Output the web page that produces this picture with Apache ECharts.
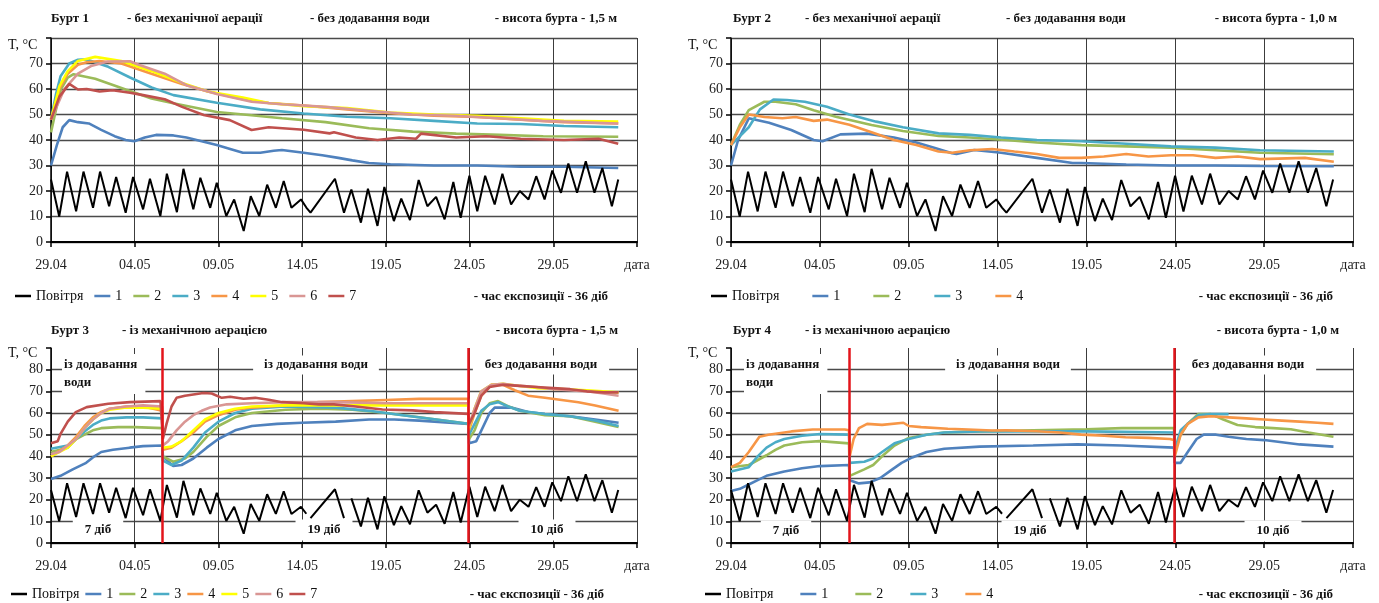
<!DOCTYPE html>
<html><head><meta charset="utf-8">
<script src="https://cdn.jsdelivr.net/npm/echarts@6/dist/echarts.min.js"></script>
<style>html,body{margin:0;padding:0;background:#fff}#c{width:1379px;height:603px}</style>
</head><body><div id="c"></div>
<script>
// ---------- DATA (day offset from 29.04, temperature °C) ----------
const tickLabels = ['29.04','04.05','09.05','14.05','19.05','24.05','29.05','дата'];
const breakDays = [6.66, 24.95];
const airBreaksBottom = [15.4, 17.7];

const air = [[0,24.5],[0.49,10],[0.96,27.6],[1.5,12],[1.94,27.6],[2.51,13.4],[2.93,27.6],[3.47,14],[3.89,25.5],[4.46,11.5],[4.9,25.5],[5.5,12.8],[5.91,24.8],[6.53,10.2],[6.92,26.8],[7.52,11.7],[7.91,28.7],[8.5,12.8],[8.92,25.2],[9.51,13.4],[9.9,23.2],[10.47,10.2],[10.94,16.7],[11.51,4.3],[11.93,18],[12.44,10.2],[12.91,22.5],[13.43,13.4],[13.9,23.9],[14.36,13.4],[14.93,16.7],[15.25,13.5],[15.5,11.5],[16.96,24.8],[17.5,11.5],[17.94,20.6],[18.51,7.6],[18.93,20.9],[19.5,6.3],[19.91,21.6],[20.48,8.2],[20.92,17],[21.44,8.6],[21.96,24.3],[22.48,14],[23.0,17.7],[23.51,8.9],[24.03,23.5],[24.47,9.5],[24.99,26],[25.46,12],[25.93,26],[26.5,14.7],[26.96,26.8],[27.48,14.7],[28.0,20],[28.52,16.7],[28.98,25.8],[29.48,16.7],[29.94,28],[30.46,19.3],[30.9,30.8],[31.42,19.3],[31.94,31.7],[32.46,19.3],[32.93,29],[33.5,14],[33.88,24.5]];

// Бурт 1
const b1s1 = [[0,30],[0.35,38],[0.7,45],[1.09,47.8],[1.61,47],[2.26,46.5],[3.0,44],[3.8,41.5],[4.46,40],[4.98,39.5],[5.6,41],[6.27,42],[7.31,41.8],[8.09,41],[9.0,39.5],[9.9,38],[10.7,36.5],[11.46,35],[12.5,35],[13.3,35.8],[13.79,36.1],[14.5,35.5],[15.09,35],[16.2,34],[17.16,33],[18.0,32],[18.98,31],[20.27,30.5],[22.87,30],[25.46,30],[28.05,29.5],[30.64,29.5],[33.88,29]];
const b1s2 = [[0,43],[0.3,52],[0.6,60],[1.0,64.5],[1.35,65.8],[2.64,64],[4.46,59.8],[6.0,56.3],[7.3,54.4],[9.9,51],[11.5,50],[13.8,48.5],[16.4,47],[19,44.6],[21.6,43.3],[24.2,42.5],[26.8,42],[29.4,41.5],[33.88,41.3]];
const b1s3 = [[0,48],[0.3,58],[0.57,65],[1.09,70],[1.61,71.5],[2.13,71.6],[3.42,68.7],[4.72,64.5],[6.01,60.6],[7.31,57.6],[9.9,54.6],[12.5,52],[15.09,50.4],[17.68,49.1],[20.27,48.5],[22.87,47.5],[25.46,46.5],[28.05,46.3],[30.64,45.5],[33.88,45]];
const b1s4 = [[0,48],[0.5,60],[1.0,66],[1.61,69.5],[2.13,70.5],[2.9,71],[4.2,70],[6.0,66],[7.83,62],[9.38,59],[11.46,56],[13.0,54.5],[15.09,53.5],[17.68,52],[20.27,50.5],[22.87,49.5],[25.46,49],[28.05,48],[30.64,47],[33.88,46.5]];
const b1s5 = [[0,48],[0.5,61],[1.0,67],[1.61,71],[2.64,72.6],[4.2,71],[6.01,67],[7.83,62.4],[9.38,59],[11.46,56.7],[13.0,54.5],[15.09,53.3],[17.68,52.5],[20.27,50.8],[22.87,50],[25.46,49.5],[28.05,48.5],[30.64,47.5],[33.88,47.2]];
const b1s6 = [[0,48],[0.8,60],[1.61,66],[2.39,69],[3.42,70.8],[4.72,70.9],[5.24,69.5],[6.79,66],[8.09,61.5],[9.9,58],[11.98,55],[13.79,54],[16.38,53],[18.98,51.5],[21.57,50],[24.16,49.5],[26.75,48.5],[29.35,47.5],[33.88,46.5]];
const b1s7 = [[0,48],[0.5,57],[1.09,62],[1.61,59.8],[2.13,60],[2.9,59],[3.68,59.5],[4.72,58.5],[5.5,57.6],[6.79,56],[7.83,53],[9.12,49.8],[10.68,47.8],[11.98,43.9],[13.0,45],[15.09,44],[16.64,42.6],[16.9,43],[18.2,41],[19.5,40],[20.8,41],[21.8,40.5],[22.1,42.5],[24.2,41],[26.0,41.5],[28.05,40.5],[30.64,40],[32.7,40.5],[33.88,38.5]];

// Бурт 2
const b2s1 = [[0,30],[0.4,40],[1.0,48.5],[2.14,46.8],[3.39,43.9],[4.65,40],[5.15,39.5],[6.16,42.2],[7.66,42.5],[9.17,41],[10.43,39],[11.43,37],[12.44,34.8],[12.69,34.5],[13.69,36.1],[15.2,35],[17.21,33],[19.22,31],[19.72,31],[22.24,30.4],[24.75,30],[27.26,30],[29.77,29.8],[33.92,29.7]];
const b2s2 = [[0,38],[0.5,46],[1.0,51.7],[1.88,55],[2.5,55],[3.64,54],[4.65,51.7],[5.9,49.1],[7.91,45.9],[9.67,43.5],[11.68,41.6],[13.44,41],[15.45,40],[17.21,39],[19.72,38],[22.24,37.5],[24.75,37],[27.26,36],[29.77,35],[33.92,34.4]];
const b2s3 = [[0,38],[1.0,45],[1.63,52],[2.39,55.9],[3.14,55.7],[4.15,55],[5.4,53],[6.66,50],[8.17,47.2],[9.67,45],[11.68,42.6],[13.44,42],[15.2,41],[17.21,40],[19.72,39.5],[22.24,38.5],[24.75,37.5],[27.26,37],[29.77,36],[33.92,35.5]];
const b2s4 = [[0,38],[0.5,45],[1.0,50],[1.88,49],[2.89,48.5],[3.64,49],[4.65,47.5],[5.4,48],[6.66,46],[7.91,43],[9.17,40],[10.43,38],[11.68,35.5],[12.44,35],[13.44,36],[14.7,36.5],[15.95,35.5],[17.21,34.5],[18.47,33],[19.72,33],[20.98,33.5],[22.24,34.5],[23.49,33.5],[24.75,34],[26.0,34],[27.26,33],[28.52,33.5],[29.77,32.5],[32.29,33],[33.92,31.5]];

// Бурт 3
const b3s1 = [[0,29.5],[0.57,31],[1.3,34],[2.1,37],[2.5,39.5],[3.0,42],[3.7,43],[4.7,44],[5.5,44.7],[6.64,45],[6.68,40],[7.3,35.5],[7.8,36],[8.5,39],[9.3,44],[10.0,48],[11.0,52],[12.0,54],[13.5,55],[15.0,55.5],[17.0,56],[19.0,57],[20.5,57],[22.0,56.5],[24.93,55],[24.97,46],[25.4,47],[26.2,60],[26.5,62.5],[27.5,62.5],[28.5,60.5],[29.5,59.5],[31.0,58.5],[32.5,57],[33.9,55.5]];
const b3s2 = [[0,42],[1.0,44],[1.5,48],[2.0,50],[2.5,52],[3.0,53],[4.0,53.5],[5.0,53.5],[6.64,53],[6.68,40],[7.3,37.5],[8.0,39],[8.5,42],[9.3,49],[10.0,54],[11.0,58],[12.0,60],[14.0,61.5],[16.0,62],[18.0,61.5],[20.0,60],[22.0,58],[24.93,55],[24.97,48],[25.3,52],[25.7,60],[26.2,64.5],[26.7,65.5],[27.2,63.5],[28.0,61],[29.5,59],[31.0,58.5],[32.5,56],[33.9,53.5]];
const b3s3 = [[0,43.5],[1.0,45],[1.5,48],[2.0,51.5],[2.5,54.5],[3.0,56.5],[3.5,57.5],[4.5,58],[5.5,58],[6.64,57.5],[6.68,38],[7.2,36],[7.8,38],[8.5,44],[9.2,51],[10.0,56],[11.0,60],[12.0,62],[14.0,63],[17.0,62.5],[19.0,61],[21.0,59],[23.0,57],[24.93,55],[24.97,50],[25.3,55],[25.7,61],[26.2,64],[26.7,65],[27.3,63],[28.0,61],[29.5,59.5],[31.0,58.5],[32.5,56.5],[33.9,54]];
const b3s4 = [[0,40],[1.0,45],[1.5,49],[2.0,54],[2.5,58],[3.0,60.5],[3.5,62],[4.5,63],[5.5,63],[6.64,61],[6.68,43],[7.2,44],[7.8,47],[8.5,51],[9.2,56],[10.0,59],[11.0,61.5],[12.0,62.5],[14.0,63.5],[16.0,65],[18.0,65.5],[20.0,66],[22.0,66.5],[24.93,66.5],[24.97,52],[25.3,60],[25.7,68],[26.3,73],[27.0,73],[27.7,70.5],[28.5,68],[29.5,67],[30.5,66],[31.5,65],[32.5,63.5],[33.9,61]];
const b3s5 = [[0,40],[1.0,44],[1.5,48],[2.0,53],[2.5,57],[3.0,60],[3.5,61.5],[4.5,62.5],[5.5,62.5],[6.64,62],[6.68,44],[7.2,44.5],[7.8,47],[8.5,52],[9.2,57],[10.0,60],[11.0,62],[12.0,63],[14.0,63.5],[17.0,63.5],[20.0,63.5],[24.93,63.5],[24.97,53],[25.3,62],[25.7,70],[26.3,73],[27.0,73.5],[28.0,72.5],[29.0,71.5],[30.5,71],[32.0,70.5],[33.9,69.5]];
const b3s6 = [[0,41],[0.5,42],[1.5,48],[2.0,53],[2.5,57],[3.0,60],[3.5,62],[4.5,63],[5.5,63.5],[6.64,63],[6.68,45],[7.0,47],[7.5,52],[8.0,56],[8.5,59],[9.0,61],[9.5,62.5],[10.5,64],[12.0,64.5],[14.0,65],[17.0,65],[20.0,64.5],[24.93,64.5],[24.97,54],[25.3,62],[25.7,70],[26.3,73],[27.0,73.5],[28.0,72.5],[29.0,72],[30.0,71],[31.0,70.5],[32.0,70],[33.0,69],[33.9,68]];
const b3s7 = [[0,46],[0.4,47],[0.57,50.4],[1.0,56],[1.48,60.4],[2.13,62.7],[3.42,64.3],[4.72,65],[6.54,65.5],[6.64,65],[6.68,48],[6.9,55],[7.2,63],[7.5,67],[8.0,68],[9.1,69.2],[9.6,69],[10.2,67],[10.7,67.5],[11.5,66.6],[12.2,67],[13.0,66.1],[13.8,65],[15.1,64.5],[16.0,64],[16.9,64],[18.2,63],[19.8,61.6],[21.6,61.2],[22.9,60.4],[24.93,59.6],[24.97,55],[25.3,60],[25.7,68],[26.2,72],[27.0,73],[28.0,72.5],[29.0,72],[30.0,71.5],[31.0,71],[32.0,70],[33.0,69.5],[33.9,69.5]];

// Бурт 4
const b4s1 = [[0,24],[0.5,25],[1.0,27],[1.5,29],[2.0,31],[3.0,33],[4.0,34.5],[5.0,35.5],[6.64,36],[6.68,29],[7.2,27.5],[7.8,28],[8.4,30],[9.0,33.5],[9.6,37],[10.2,39.5],[11.0,42],[12.0,43.5],[14.0,44.5],[17.0,45],[19.5,45.5],[22.0,45],[24.93,44],[24.97,37],[25.3,37],[25.7,42],[26.2,48],[26.6,50],[27.3,50],[28.0,49],[29.0,48],[30.0,47.5],[31.0,46.5],[32.0,45.5],[33.9,44.5]];
const b4s2 = [[0,35],[1.0,36],[2.0,40.5],[2.5,43],[3.0,45],[4.0,46.5],[5.0,47],[6.64,46],[6.68,31],[7.5,34],[8.0,36],[8.5,40],[9.2,45],[10.0,48.5],[11.0,50],[12.0,51],[14.0,51.5],[17.0,52],[20.0,52.5],[22.0,53],[24.93,53],[24.97,42],[25.3,50],[25.7,55],[26.3,59.5],[27.0,59.5],[27.7,57],[28.5,54.5],[29.5,53.5],[30.5,53],[31.5,52.5],[32.5,51],[33.9,49]];
const b4s3 = [[0,33],[1.0,35],[1.5,40],[2.0,44],[2.5,46.5],[3.0,48],[4.0,49.5],[5.0,50.3],[6.64,50],[6.68,37],[7.5,37.5],[8.0,39],[8.5,42],[9.2,46],[10.0,48],[11.0,50],[12.0,51],[14.0,51.5],[17.0,51.5],[20.0,51.5],[24.93,51],[24.97,43],[25.3,52],[25.7,55],[26.3,59],[27.0,59.5],[28.0,59.5]];
const b4s4 = [[0,35],[0.5,37],[1.0,42],[1.6,49],[2.1,50],[3.4,51.5],[4.6,52.4],[6.4,52.4],[6.64,52],[6.68,40],[6.9,48],[7.2,53],[7.66,55],[8.5,54.5],[9.7,55.5],[10.0,54],[10.7,53.5],[12.2,52.7],[13.0,52.5],[14.7,51.9],[15.5,52],[17.2,51.6],[18.5,51],[19.7,50],[21.0,49.5],[22.2,48.8],[23.5,48.5],[24.7,48],[24.93,47.5],[24.97,40],[25.3,50],[25.7,55],[26.3,58],[27.0,58.5],[28.0,58],[29.0,57.5],[30.0,57],[31.0,56.5],[32.0,56],[33.0,55.5],[33.9,55]];

// ---------- CHART ----------
const FONT = '"Liberation Serif","DejaVu Serif",serif';
const COLORS = {'1':'#4f81bd','2':'#9bbb59','3':'#4bacc6','4':'#f79646','5':'#ffff00','6':'#d99694','7':'#c0504d'};
const chart = echarts.init(document.getElementById('c'), null, {renderer:'canvas'});

function withBreaks(data, breaks){
  const out=[];
  for(let i=0;i<data.length;i++){
    out.push(data[i]);
    if(i<data.length-1){
      breaks.forEach(b=>{ if(data[i][0]<b && data[i+1][0]>b) out.push([b,'-']); });
    }
  }
  return out;
}

const grids = [
  {left:51, top:38, width:586, height:204},
  {left:731, top:38, width:622, height:204},
  {left:51, top:348, width:586, height:195},
  {left:731, top:348, width:622, height:195}
];
const yMax = [80,80,90,90];

const xAxes = grids.map((g,i)=>({
  type:'value', gridIndex:i, min:0, max:35, interval:5,
  axisLine:{show:true, onZero:false, lineStyle:{color:'#000', width:2}},
  axisTick:{show:true, length:5, lineStyle:{color:'#000', width:1.5}},
  splitLine:{show:true, lineStyle:{color:'#3c3c3c', width:1}},
  axisLabel:{show:true, margin:16, fontFamily:FONT, fontSize:14, color:'#222',
    showMinLabel:true, showMaxLabel:true,
    formatter:v=>tickLabels[Math.round(v/5)]||''}
}));
const yAxes = grids.map((g,i)=>({
  type:'value', gridIndex:i, min:0, max:yMax[i], interval:10,
  axisLine:{show:true, lineStyle:{color:'#000', width:1.5}},
  axisTick:{show:true, length:5, lineStyle:{color:'#000', width:1.5}},
  splitLine:{show:true, showMaxLine: i<2, lineStyle:{color:'#4a4a4a', width:1.4}},
  axisLabel:{margin:8, fontFamily:FONT, fontSize:14, color:'#222',
    formatter:v=> v===yMax[i] ? '' : String(v)}
}));

const series = [];
function addLine(idx, name, data, color, width, extra){
  series.push(Object.assign({
    type:'line', name, xAxisIndex:idx, yAxisIndex:idx, data,
    showSymbol:false, symbol:'none', smooth:false, connectNulls:false,
    lineStyle:{color, width}, itemStyle:{color}, animation:false
  }, extra||{}));
}
const panels = [
  [b1s1,b1s2,b1s3,b1s4,b1s5,b1s6,b1s7],
  [b2s1,b2s2,b2s3,b2s4],
  [b3s1,b3s2,b3s3,b3s4,b3s5,b3s6,b3s7],
  [b4s1,b4s2,b4s3,b4s4]
];
panels.forEach((list,p)=>{
  list.forEach((d,k)=>{ const n=String(k+1); addLine(p,n,d,COLORS[n],2.6); });
  const airData = p<2 ? air : withBreaks(air, airBreaksBottom);
  const extra = p<2 ? {} : {markLine:{symbol:['none','none'], silent:true, animation:false,
      label:{show:false}, lineStyle:{color:'#e3141b', width:2.5, type:'solid'},
      data: breakDays.map(d=>({xAxis:d}))}};
  addLine(p,'Повітря',airData,'#000',2,extra);
});

const legTxt = {fontFamily:FONT, fontSize:14, color:'#111'};
const names7 = ['Повітря','1','2','3','4','5','6','7'];
const names4 = ['Повітря','1','2','3','4'];
const legends = [
  {left:15, top:289, itemGap:11, data:names7},
  {left:711, top:289, itemGap:33, data:names4},
  {left:11, top:587, itemGap:6, data:names7},
  {left:705, top:587, itemGap:27, data:names4}
].map(l=>Object.assign({icon:'rect', itemWidth:16, itemHeight:2.5, padding:0, textStyle:legTxt, selectedMode:false}, l));

function txt(x,y,s,o){
  o=o||{};
  return {type:'text', x, y, z:o.z||1, silent:true, style:Object.assign({
    text:s, font:(o.bold?'bold ':'')+(o.size||14)+'px '+FONT, fill:'#111',
    align:o.align||'left', verticalAlign:o.va||'middle'
  }, o.bg?{backgroundColor:'#fff', padding:o.pad||[3,10]}:{}, o.lh?{lineHeight:o.lh}:{})};
}
const graphics = [
  // titles
  txt(51,19,'Бурт 1',{bold:1,size:13}), txt(127,19,'- без механічної аерації',{bold:1,size:13}),
  txt(310,19,'- без додавання води',{bold:1,size:13}), txt(617,19,'- висота бурта - 1,5 м',{bold:1,size:13,align:'right'}),
  txt(733,19,'Бурт 2',{bold:1,size:13}), txt(805,19,'- без механічної аерації',{bold:1,size:13}),
  txt(1006,19,'- без додавання води',{bold:1,size:13}), txt(1337,19,'- висота бурта - 1,0 м',{bold:1,size:13,align:'right'}),
  txt(51,331,'Бурт 3',{bold:1,size:13}), txt(122,331,'- із механічною аерацією',{bold:1,size:13}),
  txt(618,331,'- висота бурта - 1,5 м',{bold:1,size:13,align:'right'}),
  txt(733,331,'Бурт 4',{bold:1,size:13}), txt(805,331,'- із механічною аерацією',{bold:1,size:13}),
  txt(1339,331,'- висота бурта - 1,0 м',{bold:1,size:13,align:'right'}),
  // axis titles
  txt(8,45,'T, °C'), txt(688,45,'T, °C'), txt(8,353,'T, °C'), txt(688,353,'T, °C'),
  // exposure
  txt(608,297,'- час експозиції - 36 діб',{bold:1,size:13,align:'right'}),
  txt(1333,297,'- час експозиції - 36 діб',{bold:1,size:13,align:'right'}),
  txt(604,595,'- час експозиції - 36 діб',{bold:1,size:13,align:'right'}),
  txt(1333,595,'- час експозиції - 36 діб',{bold:1,size:13,align:'right'}),
  // period labels bottom-left
  txt(62,354,'із додавання\nводи',{bold:1,size:13,va:'top',bg:1,pad:[2,8,2,2],lh:18}),
  txt(316,365,'із додавання води',{bold:1,size:13,align:'center',bg:1,pad:[3,11]}),
  txt(541,365,'без додавання води',{bold:1,size:13,align:'center',bg:1,pad:[3,12]}),
  // period labels bottom-right
  txt(744,354,'із додавання\nводи',{bold:1,size:13,va:'top',bg:1,pad:[2,8,2,2],lh:18}),
  txt(1008,365,'із додавання води',{bold:1,size:13,align:'center',bg:1,pad:[3,11]}),
  txt(1248,365,'без додавання води',{bold:1,size:13,align:'center',bg:1,pad:[3,12]}),
  // durations
  txt(98,530,'7 діб',{bold:1,size:13,align:'center',bg:1,pad:[4,12]}),
  txt(324,530,'19 діб',{bold:1,size:13,align:'center',bg:1,pad:[4,12]}),
  txt(547,530,'10 діб',{bold:1,size:13,align:'center',bg:1,pad:[4,12]}),
  txt(786,531,'7 діб',{bold:1,size:13,align:'center',bg:1,pad:[4,12]}),
  txt(1030,531,'19 діб',{bold:1,size:13,align:'center',bg:1,pad:[4,12]}),
  txt(1273,531,'10 діб',{bold:1,size:13,align:'center',bg:1,pad:[4,12]})
];

chart.setOption({
  animation:false,
  backgroundColor:'#fff',
  grid:grids.map(g=>Object.assign({containLabel:false},g)),
  xAxis:xAxes, yAxis:yAxes,
  legend:legends,
  series,
  graphic:graphics
});
</script></body></html>
